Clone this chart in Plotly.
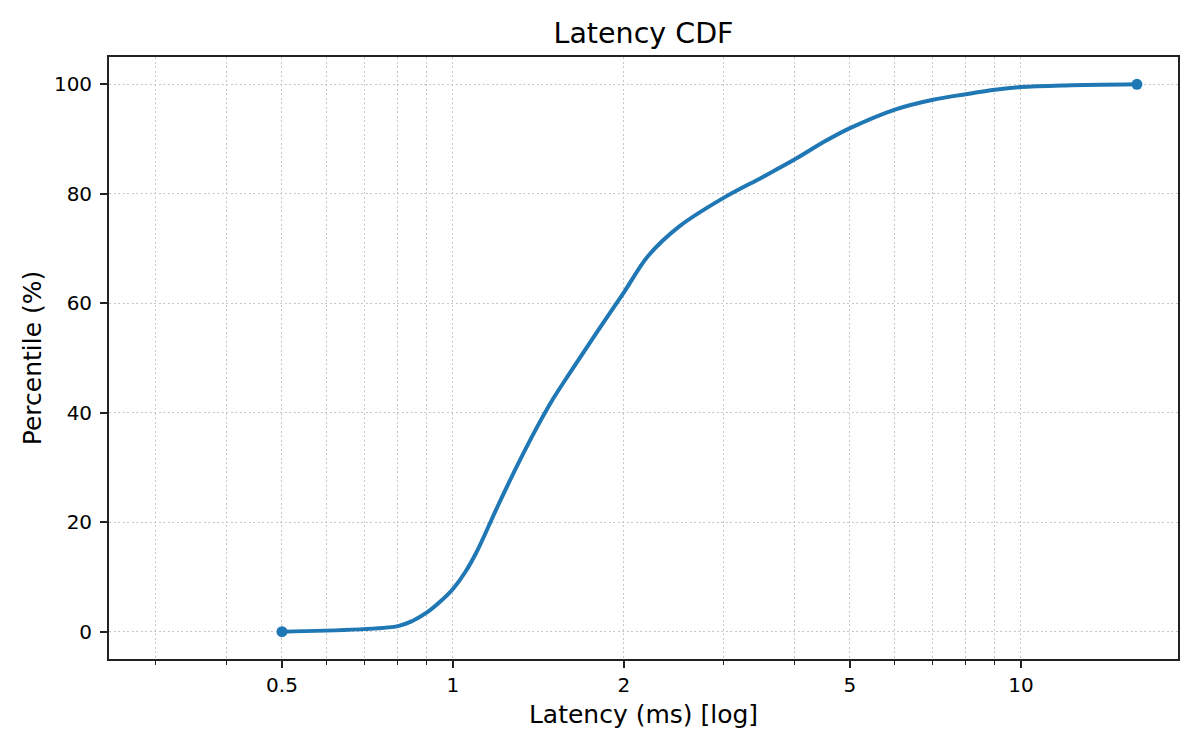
import math
import plotly.graph_objects as go

# --- data ---
latency_ms = [0.5, 0.8, 0.85, 0.9, 0.95, 1.0, 1.05, 1.1, 1.2, 1.3, 1.4, 1.5, 1.6, 1.8,
              2.0, 2.2, 2.5, 3.0, 3.5, 4.0, 4.5, 5.0, 6.0, 7.0, 8.0, 9.0, 10.0, 12.0, 16.0]
percentile = [0, 1, 2, 3.5, 5.5, 7.8, 10.8, 14.5, 23, 30.5, 37, 42.5, 47, 55,
              62, 68.5, 74, 79.3, 83, 86.3, 89.5, 92, 95.4, 97.2, 98.2, 99, 99.5, 99.8, 100]

major_ticks = [0.5, 1, 2, 5, 10]
major_labels = ["0.5", "1", "2", "5", "10"]
minor_ticks = [0.3, 0.4, 0.6, 0.7, 0.8, 0.9, 3, 4, 6, 7, 8, 9]
y_ticks = [0, 20, 40, 60, 80, 100]

LINE = "#1f77b4"
AXIS = "#222222"
GRID = "#c8c8c8"
DOTS = "2px,2.5px"
FONT = "DejaVu Sans"

fig = go.Figure()
fig.add_trace(go.Scatter(
    x=latency_ms, y=percentile, mode="lines",
    line=dict(color=LINE, width=4, shape="spline", smoothing=0.9),
    hoverinfo="x+y", showlegend=False,
))
# dots only at the two ends
fig.add_trace(go.Scatter(
    x=[latency_ms[0], latency_ms[-1]], y=[percentile[0], percentile[-1]],
    mode="markers", marker=dict(color=LINE, size=11), showlegend=False,
))

# page body has an 8px margin, so the figure is 8px smaller each way
fig.update_layout(
    width=1192, height=742,
    paper_bgcolor="white", plot_bgcolor="white",
    margin=dict(l=101, r=22, t=49, b=91),
    font=dict(family=FONT, color="black", size=20),
    title=dict(text="Latency CDF", x=0.5, xref="paper", xanchor="center",
               y=1 - 25 / 742, yref="container", yanchor="middle",
               font=dict(size=28.5)),
    xaxis=dict(
        type="log",
        range=[math.log10(0.248), math.log10(18.9)],
        tickmode="array", tickvals=major_ticks, ticktext=major_labels,
        ticks="outside", ticklen=7, tickwidth=1.7, tickcolor=AXIS,
        showline=True, linecolor=AXIS, linewidth=1.8, mirror=True,
        showgrid=True, gridcolor=GRID, gridwidth=1, griddash=DOTS,
        zeroline=False,
        minor=dict(tickmode="array", tickvals=minor_ticks, ticks="outside",
                   ticklen=4, tickwidth=1.3, tickcolor=AXIS,
                   showgrid=True, gridcolor=GRID, gridwidth=1, griddash=DOTS),
        title=dict(text="Latency (ms) [log]", font=dict(size=25), standoff=10),
    ),
    yaxis=dict(
        range=[-5, 105],
        tickmode="array", tickvals=y_ticks,
        ticks="outside", ticklen=7, tickwidth=1.7, tickcolor=AXIS,
        ticklabelstandoff=4,
        showline=True, linecolor=AXIS, linewidth=1.8, mirror=True,
        showgrid=True, gridcolor=GRID, gridwidth=1, griddash=DOTS,
        zeroline=False,
        title=dict(text="Percentile (%)", font=dict(size=25), standoff=5),
    ),
)

fig.write_html("out.html")
